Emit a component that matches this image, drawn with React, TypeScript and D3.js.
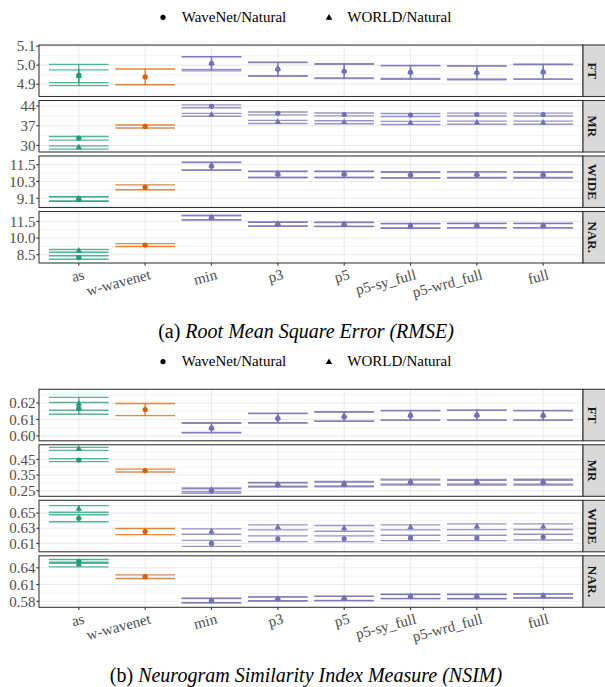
import * as d3 from "d3";

const categories = ["as", "w-wavenet", "min", "p3", "p5", "p5-sy_full", "p5-wrd_full", "full"];
const facets = ["FT", "MR", "WIDE", "NAR."];
const seriesNames = ["WaveNet/Natural", "WORLD/Natural"];

// [mean, lower, upper] per category; null where the pair was not measured
const rmseFtWaveNet = [[4.948, 4.892, 5.004], [4.938, 4.897, 4.98], [5.008, 4.97, 5.045], [4.978, 4.941, 5.014], [4.968, 4.93, 5.005], [4.962, 4.926, 4.997], [4.96, 4.923, 4.995], [4.964, 4.925, 5.003]];
const rmseFtWorld = [[4.942, 4.908, 4.975], null, [5.011, 4.977, 5.044], [4.981, 4.944, 5.016], [4.971, 4.933, 5.008], [4.965, 4.93, 4.999], [4.963, 4.927, 4.997], [4.966, 4.928, 5.005]];
const rmseMrWaveNet = [[32.6, 31.9, 33.2], [36.75, 36.2, 37.25], [43.9, 43.4, 44.4], [41.4, 40.85, 41.9], [41.0, 40.5, 41.55], [40.8, 40.3, 41.35], [41.0, 40.45, 41.5], [41.0, 40.45, 41.5]];
const rmseMrWorld = [[29.3, 28.7, 29.85], null, [40.9, 40.35, 41.4], [38.35, 37.8, 38.9], [38.25, 37.7, 38.8], [38.0, 37.45, 38.55], [38.1, 37.55, 38.65], [38.1, 37.55, 38.65]];
const rmseWideWaveNet = [[9.05, 8.88, 9.22], [9.89, 9.71, 10.06], [11.4, 11.1, 11.68], [10.82, 10.57, 11.01], [10.82, 10.57, 11.01], [10.76, 10.54, 10.96], [10.78, 10.55, 10.97], [10.77, 10.55, 10.95]];
const rmseWideWorld = [[9.07, 8.9, 9.2], null, [11.44, 11.13, 11.66], [10.86, 10.6, 11.03], [10.86, 10.6, 11.03], [10.8, 10.57, 10.99], [10.82, 10.58, 11.0], [10.81, 10.58, 10.99]];
const rmseNarWaveNet = [[8.24, 8.09, 8.4], [9.37, 9.23, 9.5], [11.83, 11.62, 12.0], [11.24, 11.06, 11.42], [11.22, 11.03, 11.4], [11.09, 10.88, 11.28], [11.11, 10.91, 11.3], [11.11, 10.91, 11.3]];
const rmseNarWorld = [[8.85, 8.72, 8.97], null, [11.86, 11.66, 12.05], [11.27, 11.09, 11.44], [11.25, 11.06, 11.43], [11.12, 10.91, 11.32], [11.14, 10.94, 11.33], [11.14, 10.94, 11.33]];

const nsimFtWaveNet = [[0.6167, 0.6131, 0.6203], [0.616, 0.6123, 0.6197], [0.6047, 0.6018, 0.6077], [0.6106, 0.6078, 0.6135], [0.6116, 0.6088, 0.6145], [0.6123, 0.6094, 0.6152], [0.6125, 0.6094, 0.6155], [0.6123, 0.6094, 0.6152]];
const nsimFtWorld = [[0.6195, 0.6156, 0.6234], null, [0.605, 0.602, 0.608], [0.6109, 0.608, 0.6137], [0.6119, 0.609, 0.6147], [0.6126, 0.6097, 0.6155], [0.6128, 0.6097, 0.6158], [0.6126, 0.6097, 0.6155]];
const nsimMrWaveNet = [[0.446, 0.436, 0.455], [0.379, 0.37, 0.388], [0.249, 0.233, 0.263], [0.287, 0.274, 0.3], [0.29, 0.275, 0.305], [0.302, 0.287, 0.318], [0.302, 0.287, 0.316], [0.302, 0.287, 0.317]];
const nsimMrWorld = [[0.518, 0.508, 0.527], null, [0.257, 0.243, 0.268], [0.292, 0.279, 0.303], [0.296, 0.281, 0.309], [0.308, 0.292, 0.324], [0.307, 0.292, 0.322], [0.307, 0.292, 0.323]];
const nsimWideWaveNet = [[0.6432, 0.6385, 0.6479], [0.6256, 0.6216, 0.6296], [0.61, 0.606, 0.614], [0.6161, 0.6123, 0.6199], [0.6161, 0.6123, 0.6199], [0.6172, 0.6136, 0.6207], [0.6172, 0.6136, 0.6207], [0.6183, 0.6145, 0.622]];
const nsimWideWorld = [[0.6555, 0.6512, 0.6599], null, [0.6256, 0.622, 0.6292], [0.6312, 0.6279, 0.6345], [0.6298, 0.626, 0.6336], [0.6312, 0.6279, 0.6345], [0.632, 0.6282, 0.6358], [0.6321, 0.6283, 0.6358]];
const nsimNarWaveNet = [[0.6515, 0.648, 0.655], [0.6241, 0.6208, 0.6274], [0.581, 0.5771, 0.585], [0.5841, 0.5806, 0.5877], [0.585, 0.5812, 0.5888], [0.5885, 0.5848, 0.5922], [0.5884, 0.5846, 0.5922], [0.5895, 0.586, 0.593]];
const nsimNarWorld = [[0.646, 0.6418, 0.6501], null, [0.5813, 0.5774, 0.5854], [0.5844, 0.5809, 0.5879], [0.5853, 0.5815, 0.5891], [0.5888, 0.5851, 0.5926], [0.5887, 0.585, 0.5925], [0.5898, 0.5863, 0.5933]];

// free y scales per facet row
const rmseDomains = [[4.835, 5.106], [27.67, 45.97], [8.44, 12.12], [7.75, 12.39]];
const rmseTicks = [[4.9, 5.0, 5.1], [30, 37, 44], [9.1, 10.3, 11.5], [8.5, 10.0, 11.5]];
const rmseFormats = [".1f", "d", ".1f", ".1f"];
const nsimDomains = [[0.597, 0.6283], [0.2143, 0.5436], [0.5989, 0.6669], [0.5692, 0.6616]];
const nsimTicks = [[0.6, 0.61, 0.62], [0.25, 0.35, 0.45], [0.61, 0.63, 0.65], [0.58, 0.61, 0.64]];
const nsimFormats = [".2f", ".2f", ".2f", ".2f"];

const FONT = "'Liberation Serif', 'DejaVu Serif', serif";
const left = 39;
const right = 583;
const panelTop = 45;
const panelH = 51.5;
const panelGap = 4;

const colorOf = (c: string) =>
  c === "as" ? "#1b9e77" : c === "w-wavenet" ? "#d95f02" : "#7570b3";

const triangle = d3.symbol(d3.symbolTriangle, 18)();

function Chart({ top, label, title, domains, ticks, formats, waveNet, world }: any) {
  const x = d3.scalePoint<string>().domain(categories).range([left, right]).padding(0.6);
  const half = x.step() * 0.45;
  const lastBottom = panelTop + 3 * (panelH + panelGap) + panelH;

  return (
    <g transform={`translate(0,${top})`}>
      {/* legend */}
      <circle cx={163} cy={17.3} r={2.6} fill="#000" />
      <text x={181.7} y={22.2} fontSize={15} fontFamily={FONT}>{seriesNames[0]}</text>
      <path d={triangle!} transform="translate(329,17.8)" fill="#000" />
      <text x={347.3} y={22.2} fontSize={15} fontFamily={FONT}>{seriesNames[1]}</text>

      {facets.map((f, i) => {
        const y0 = panelTop + i * (panelH + panelGap);
        const y1 = y0 + panelH;
        const y = d3.scaleLinear().domain(domains[i]).range([y1, y0]);
        const t = ticks[i];
        const step = t[1] - t[0];
        const minor = [t[0] - step / 2, ...t.map((v: number) => v + step / 2)].filter(
          (v) => v > domains[i][0] && v < domains[i][1]
        );
        const fmt = d3.format(formats[i]);
        const rows = [waveNet[i], world[i]];
        return (
          <g key={f}>
            <rect x={left} y={y0} width={right - left} height={panelH} fill="#fff" />
            {minor.map((v) => (
              <line key={"m" + v} x1={left} x2={right} y1={y(v)} y2={y(v)} stroke="#ebebeb" strokeWidth={0.55} />
            ))}
            {t.map((v: number) => (
              <line key={"g" + v} x1={left} x2={right} y1={y(v)} y2={y(v)} stroke="#ebebeb" strokeWidth={1.07} />
            ))}
            {categories.map((c) => (
              <line key={"v" + c} x1={x(c)} x2={x(c)} y1={y0} y2={y1} stroke="#ebebeb" strokeWidth={1.07} />
            ))}
            {rows.map((series: any, s: number) =>
              series.map((d: any, k: number) => {
                if (!d) return null;
                const cx = x(categories[k])!;
                const col = colorOf(categories[k]);
                return (
                  <g key={`e${s}-${k}`} stroke={col} strokeWidth={1.4} strokeOpacity={0.75}>
                    <line x1={cx - half} x2={cx + half} y1={y(d[1])} y2={y(d[1])} />
                    <line x1={cx - half} x2={cx + half} y1={y(d[2])} y2={y(d[2])} />
                    <line x1={cx} x2={cx} y1={y(d[1])} y2={y(d[2])} />
                  </g>
                );
              })
            )}
            {rows.map((series: any, s: number) =>
              series.map((d: any, k: number) => {
                if (!d) return null;
                const cx = x(categories[k])!;
                const col = colorOf(categories[k]);
                return s === 0 ? (
                  <circle key={`p${s}-${k}`} cx={cx} cy={y(d[0])} r={2.6} fill={col} />
                ) : (
                  <path key={`p${s}-${k}`} d={triangle!} transform={`translate(${cx},${y(d[0])})`} fill={col} />
                );
              })
            )}
            <rect x={left} y={y0} width={right - left} height={panelH} fill="none" stroke="#333" strokeWidth={1.07} />
            {t.map((v: number) => (
              <g key={"t" + v}>
                <line x1={left - 2.7} x2={left} y1={y(v)} y2={y(v)} stroke="#333" strokeWidth={1.07} />
                <text x={35.5} y={y(v)} dy="0.35em" textAnchor="end" fontSize={15} fill="#4d4d4d" fontFamily={FONT}>
                  {fmt(v)}
                </text>
              </g>
            ))}
            {/* facet strip */}
            <rect x={right} y={y0} width={30} height={panelH} fill="#d9d9d9" stroke="#333" strokeWidth={1.07} />
            <text
              transform={`translate(${592.5},${y0 + panelH / 2}) rotate(90)`}
              textAnchor="middle"
              dy="0.35em"
              fontSize={13}
              fontWeight="bold"
              fill="#1a1a1a"
              fontFamily={FONT}
            >
              {f}
            </text>
          </g>
        );
      })}

      {categories.map((c) => (
        <g key={"x" + c}>
          <line x1={x(c)} x2={x(c)} y1={lastBottom} y2={lastBottom + 2.7} stroke="#333" strokeWidth={1.07} />
          <text
            transform={`translate(${x(c)! + 3.5},${lastBottom + 5}) rotate(-15)`}
            textAnchor="end"
            dy="0.75em"
            fontSize={15}
            fill="#4d4d4d"
            fontFamily={FONT}
          >
            {c}
          </text>
        </g>
      ))}

      <text x={306} y={338} textAnchor="middle" fontSize={20} fontFamily={FONT}>
        <tspan>{label} </tspan>
        <tspan fontStyle="italic">{title}</tspan>
      </text>
    </g>
  );
}

export default function App() {
  return (
    <svg width={605} height={687} style={{ position: "absolute", left: 0, top: 0, background: "#fff" }}>
      <rect width={605} height={687} fill="#fff" />
      <Chart
        top={0}
        label="(a)"
        title="Root Mean Square Error (RMSE)"
        domains={rmseDomains}
        ticks={rmseTicks}
        formats={rmseFormats}
        waveNet={[rmseFtWaveNet, rmseMrWaveNet, rmseWideWaveNet, rmseNarWaveNet]}
        world={[rmseFtWorld, rmseMrWorld, rmseWideWorld, rmseNarWorld]}
      />
      <Chart
        top={344.3}
        label="(b)"
        title="Neurogram Similarity Index Measure (NSIM)"
        domains={nsimDomains}
        ticks={nsimTicks}
        formats={nsimFormats}
        waveNet={[nsimFtWaveNet, nsimMrWaveNet, nsimWideWaveNet, nsimNarWaveNet]}
        world={[nsimFtWorld, nsimMrWorld, nsimWideWorld, nsimNarWorld]}
      />
    </svg>
  );
}
